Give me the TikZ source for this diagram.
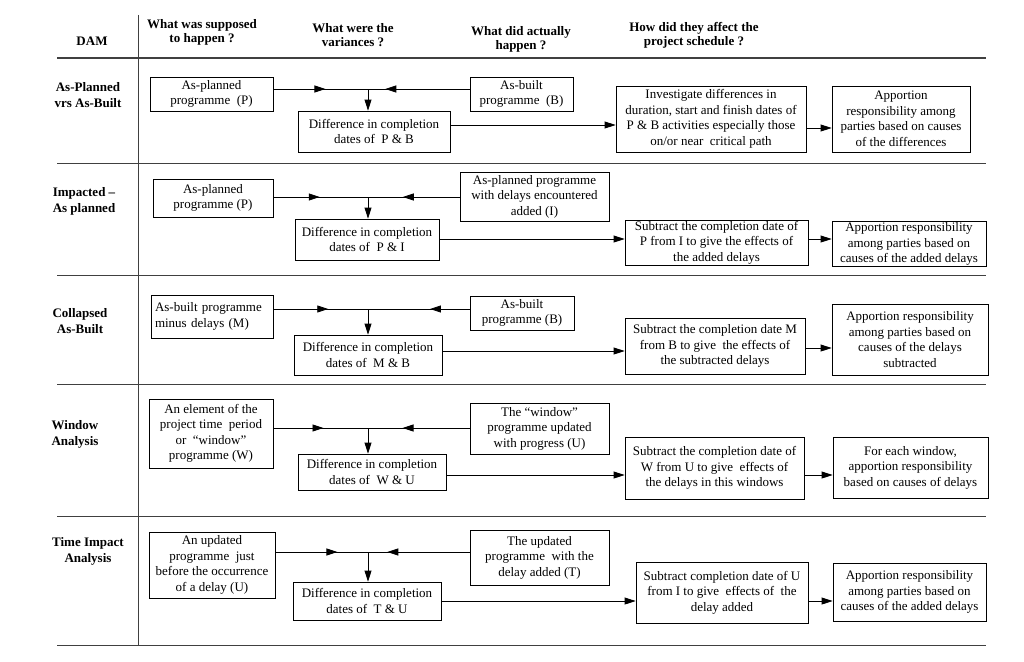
\documentclass[tikz,border=0pt]{standalone}
\usepackage{fontspec}
\setmainfont{Liberation Serif}
\usepackage{tikz}
\usetikzlibrary{arrows.meta, positioning, calc, decorations.markings}

\begin{document}
\begin{tikzpicture}[
    x=1pt, y=-1pt,
    every node/.style={color=black, font=\fontsize{13}{15.5}\selectfont},
    box/.style={draw, rectangle, line width=0.8pt, align=center, inner sep=1pt, color=black},
    head/.style={font=\fontsize{13}{14}\selectfont\bfseries, align=center},
    rowlab/.style={font=\fontsize{13}{16}\selectfont\bfseries, align=center},
    rule/.style={line width=1pt, color=black!75},
    arrow/.style={-{Triangle[length=11pt, width=7pt]}, line width=0.8pt},
    feed/.style={line width=0.8pt, postaction={decorate},
        decoration={markings, mark=at position #1 with {\arrow{Triangle[length=11pt, width=7pt]}}}},
]
\useasboundingbox (0,0) rectangle (1024,661);

% =========================================================
% TABLE FRAME
% =========================================================
\draw[rule] (138,15) -- (138,645);
\draw[rule, line width=1.4pt] (57,58) -- (986,58);
\foreach \y in {163, 275, 384, 516, 645}
    \draw[rule] (57,\y) -- (986,\y);

% column heads
\node[head] (hdam)  at (92,41)  {DAM};
\node[head] (hsup)  at (202,32) {What was supposed\\to happen ?};
\node[head] (hvar)  at (353,35) {What were the\\variances ?};
\node[head] (hact)  at (521,39) {What did actually\\happen ?};
\node[head] (haff)  at (694,35) {How did they affect the\\project schedule ?};

% row labels
\node[rowlab] (lab1) at (88,95)  {As-Planned\\vrs As-Built};
\node[rowlab] (lab2) at (84,201) {Impacted --\\As planned};
\node[rowlab] (lab3) at (80,321) {Collapsed\\As-Built};
\node[rowlab] (lab4) at (75,434) {Window\\Analysis};
\node[rowlab] (lab5) at (88,551) {Time Impact\\Analysis};

% =========================================================
% ROW 1: As-Planned vrs As-Built
% =========================================================
\node[box, minimum width=123pt, minimum height=34pt] (p1) at (211.5,94)
    {As-planned\\programme~~(P)};
\node[box, minimum width=103pt, minimum height=34pt] (b1) at (521.5,94)
    {As-built\\programme~~(B)};
\node[box, minimum width=152pt, minimum height=41pt] (d1) at (374,131.5)
    {Difference in completion\\dates of~ P \& B};
\node[box, minimum width=190pt, minimum height=66pt] (inv1) at (711,119)
    {Investigate differences in\\duration, start and finish dates of\\P \& B activities especially those\\on/or near~ critical path};
\node[box, minimum width=138pt, minimum height=66pt] (ap1) at (901,119)
    {Apportion\\responsibility among\\parties based on causes\\of the differences};
\coordinate (j1) at (368,89);
\coordinate (o1) at (0,125);
\coordinate (q1) at (0,128);

\draw[feed=0.55] (j1 -| p1.east) -- (j1);
\draw[feed=0.83] (j1 -| b1.west) -- (j1);
\draw[arrow] (j1) -- (j1 |- d1.north);
\draw[arrow] (o1 -| d1.east) -- (o1 -| inv1.west);
\draw[arrow] (q1 -| inv1.east) -- (q1 -| ap1.west);

% =========================================================
% ROW 2: Impacted - As planned
% =========================================================
\node[box, minimum width=120pt, minimum height=38pt] (p2) at (213,198)
    {As-planned\\programme (P)};
\node[box, minimum width=149pt, minimum height=49pt] (i2) at (534.5,196.5)
    {As-planned programme\\with delays encountered\\added (I)};
\node[box, minimum width=144pt, minimum height=41pt] (d2) at (367,239.5)
    {Difference in completion\\dates of~ P \& I};
\node[box, minimum width=183pt, minimum height=43pt] (s2) at (716.5,242.5)
    {Subtract the completion date of\\P from I to give the effects of\\the added delays};
\node[box, minimum width=154pt, minimum height=44pt] (ap2) at (909,244)
    {Apportion responsibility\\among parties based on\\causes of the added delays};
\coordinate (j2) at (368,197);
\coordinate (o2) at (0,239);

\draw[feed=0.49] (j2 -| p2.east) -- (j2);
\draw[feed=0.62] (j2 -| i2.west) -- (j2);
\draw[arrow] (j2) -- (j2 |- d2.north);
\draw[arrow] (o2 -| d2.east) -- (o2 -| s2.west);
\draw[arrow] (o2 -| s2.east) -- (o2 -| ap2.west);

% =========================================================
% ROW 3: Collapsed As-Built
% =========================================================
\node[box, align=left, inner sep=4pt, minimum width=122pt, minimum height=43pt, text width=114pt] (m3) at (212,316.5)
    {As-built programme\\minus delays (M)};
\node[box, minimum width=104pt, minimum height=34pt] (b3) at (522,313)
    {As-built\\programme (B)};
\node[box, minimum width=148pt, minimum height=40pt] (d3) at (368,355)
    {Difference in completion\\dates of~ M \& B};
\node[box, minimum width=180pt, minimum height=56pt] (s3) at (715,346)
    {Subtract the completion date M\\from B to give~ the effects of\\the subtracted delays};
\node[box, minimum width=156pt, minimum height=71pt] (ap3) at (910,339.5)
    {Apportion responsibility\\among parties based on\\causes of the delays\\subtracted};
\coordinate (j3) at (368,309);
\coordinate (o3) at (0,351);
\coordinate (q3) at (0,348);

\draw[feed=0.58] (j3 -| m3.east) -- (j3);
\draw[feed=0.39] (j3 -| b3.west) -- (j3);
\draw[arrow] (j3) -- (j3 |- d3.north);
\draw[arrow] (o3 -| d3.east) -- (o3 -| s3.west);
\draw[arrow] (q3 -| s3.east) -- (q3 -| ap3.west);

% =========================================================
% ROW 4: Window Analysis
% =========================================================
\node[box, minimum width=124pt, minimum height=69pt] (w4) at (211,433.5)
    {An element of the\\project time~ period\\or~ “window”\\programme (W)};
\node[box, minimum width=139pt, minimum height=51pt] (u4) at (539.5,428.5)
    {The “window”\\programme updated\\with progress (U)};
\node[box, minimum width=148pt, minimum height=36pt] (d4) at (372,472)
    {Difference in completion\\dates of~ W \& U};
\node[box, minimum width=179pt, minimum height=62pt] (s4) at (714.5,468)
    {Subtract the completion date of\\W from U to give~ effects of\\the delays in this windows};
\node[box, minimum width=155pt, minimum height=61pt] (ap4) at (910.5,467.5)
    {For each window,\\apportion responsibility\\based on causes of delays};
\coordinate (j4) at (368,428);
\coordinate (o4) at (0,475);

\draw[feed=0.53] (j4 -| w4.east) -- (j4);
\draw[feed=0.66] (j4 -| u4.west) -- (j4);
\draw[arrow] (j4) -- (j4 |- d4.north);
\draw[arrow] (o4 -| d4.east) -- (o4 -| s4.west);
\draw[arrow] (o4 -| s4.east) -- (o4 -| ap4.west);

% =========================================================
% ROW 5: Time Impact Analysis
% =========================================================
\node[box, minimum width=126pt, minimum height=66pt] (u5) at (212,565)
    {An updated\\programme~ just\\before the occurrence\\of a delay (U)};
\node[box, minimum width=139pt, minimum height=55pt] (t5) at (539.5,557.5)
    {The updated\\programme~ with the\\delay added (T)};
\node[box, minimum width=148pt, minimum height=38pt] (d5) at (367,601)
    {Difference in completion\\dates of~ T \& U};
\node[box, minimum width=172pt, minimum height=61pt] (s5) at (722,592.5)
    {Subtract completion date of U\\from I to give~ effects of~ the\\delay added};
\node[box, minimum width=153pt, minimum height=58pt] (ap5) at (909.5,592)
    {Apportion responsibility\\among parties based on\\causes of the added delays};
\coordinate (j5) at (368,552);
\coordinate (o5) at (0,601);

\draw[feed=0.67] (j5 -| u5.east) -- (j5);
\draw[feed=0.81] (j5 -| t5.west) -- (j5);
\draw[arrow] (j5) -- (j5 |- d5.north);
\draw[arrow] (o5 -| d5.east) -- (o5 -| s5.west);
\draw[arrow] (o5 -| s5.east) -- (o5 -| ap5.west);

\end{tikzpicture}
\end{document}
